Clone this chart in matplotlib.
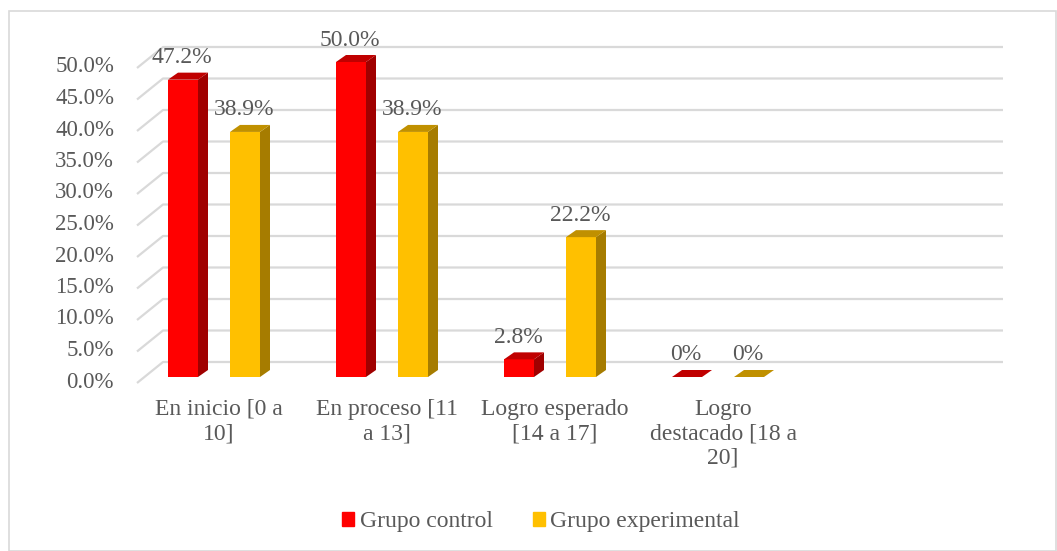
import matplotlib.pyplot as plt
from matplotlib.patches import Patch, Rectangle

# =====================================
# Data
# =====================================

categories = ["En inicio [0 a\n10]", "En proceso [11\na 13]",
              "Logro esperado\n[14 a 17]", "Logro\ndestacado [18 a\n20]"]
control = [47.2, 50.0, 2.8, 0.0]
experimental = [38.9, 38.9, 22.2, 0.0]
series_names = ["Grupo control", "Grupo experimental"]
y_ticks = [0, 5, 10, 15, 20, 25, 30, 35, 40, 45, 50]

# =====================================
# Styling
# =====================================

plt.rcParams["font.family"] = ["Liberation Serif", "DejaVu Serif"]
text_color = "#595959"
grid_color = "#d9d9d9"
fs = 17
fs_tick = 16.5

front = {"control": "#FF0000", "experimental": "#FFC000"}
side = {"control": "#A00000", "experimental": "#A67C00"}
top = {"control": "#C00000", "experimental": "#C09000"}

W, H = 1057, 551
fig = plt.figure(figsize=(W / 100, H / 100), dpi=100)

# axes geometry in pixels (from top-left)
px_left, px_right = 137, 975
px_bottom, px_top = 377, 62
x0_px = 219            # pixel of group 0 centre
sx = 168.0             # px per category
sy = (px_bottom - px_top) / 50.0   # px per percent

ax = fig.add_axes([px_left / W, 1 - px_bottom / H,
                   (px_right - px_left) / W, (px_bottom - px_top) / H])
ax.set_xlim((px_left - x0_px) / sx, (px_right - x0_px) / sx)
ax.set_ylim(0, 50)
ax.axis("off")


def xd(px):
    return (px - x0_px) / sx


# =====================================
# Gridlines (3D wall look)
# =====================================

for v in y_ticks:
    ax.plot([xd(137), xd(163), xd(1003)],
            [v - 6 / sy, v + 15 / sy, v + 15 / sy],
            color=grid_color, lw=1.6, clip_on=False, zorder=1,
            solid_capstyle="butt")
    ax.text(xd(114), v - 5 / sy, f"{v:.1f}%", ha="right", va="center",
            fontsize=fs_tick, color=text_color, clip_on=False)

# =====================================
# Bars
# =====================================

bw = 30 / sx
dx = 10 / sx
dy = 7 / sy
offsets = {"control": -36 / sx, "experimental": 26 / sx}

for key, values in [("control", control), ("experimental", experimental)]:
    for i, h in enumerate(values):
        xc = i + offsets[key]
        xa, xb = xc - bw / 2, xc + bw / 2
        if h > 0:
            ax.bar(xc, h, width=bw, color=front[key], zorder=3, clip_on=False)
            ax.fill([xb, xb + dx, xb + dx, xb], [0, dy, h + dy, h],
                    color=side[key], zorder=3, clip_on=False, lw=0)
        ax.fill([xa, xa + dx, xb + dx, xb], [h, h + dy, h + dy, h],
                color=top[key], zorder=3, clip_on=False, lw=0)
        label = f"{h:.1f}%" if h else "0%"
        ax.text(xc - 1 / sx, h + 22 / sy, label, ha="center", va="center",
                fontsize=fs, color=text_color, clip_on=False, zorder=4)

# =====================================
# Category labels
# =====================================

for i, cat in enumerate(categories):
    ax.text(i, -(399 - px_bottom) / sy, cat, ha="center", va="top",
            fontsize=fs, color=text_color, linespacing=1.19, clip_on=False)

# =====================================
# Legend and border
# =====================================

handles = [Patch(color=front["control"]), Patch(color=front["experimental"])]
leg = fig.legend(handles, series_names, loc="center",
                 bbox_to_anchor=(541 / W, 1 - 522 / H), ncol=2, frameon=False,
                 fontsize=fs, handlelength=0.52, handleheight=0.52,
                 handletextpad=0.22, columnspacing=1.7)
for t in leg.get_texts():
    t.set_color(text_color)

fig.patches.append(Rectangle((9 / W, 0), (W - 10) / W, 1 - 11 / H,
                             transform=fig.transFigure, fill=False,
                             edgecolor=grid_color, lw=1.2))

fig.savefig("out.png", dpi=100)
